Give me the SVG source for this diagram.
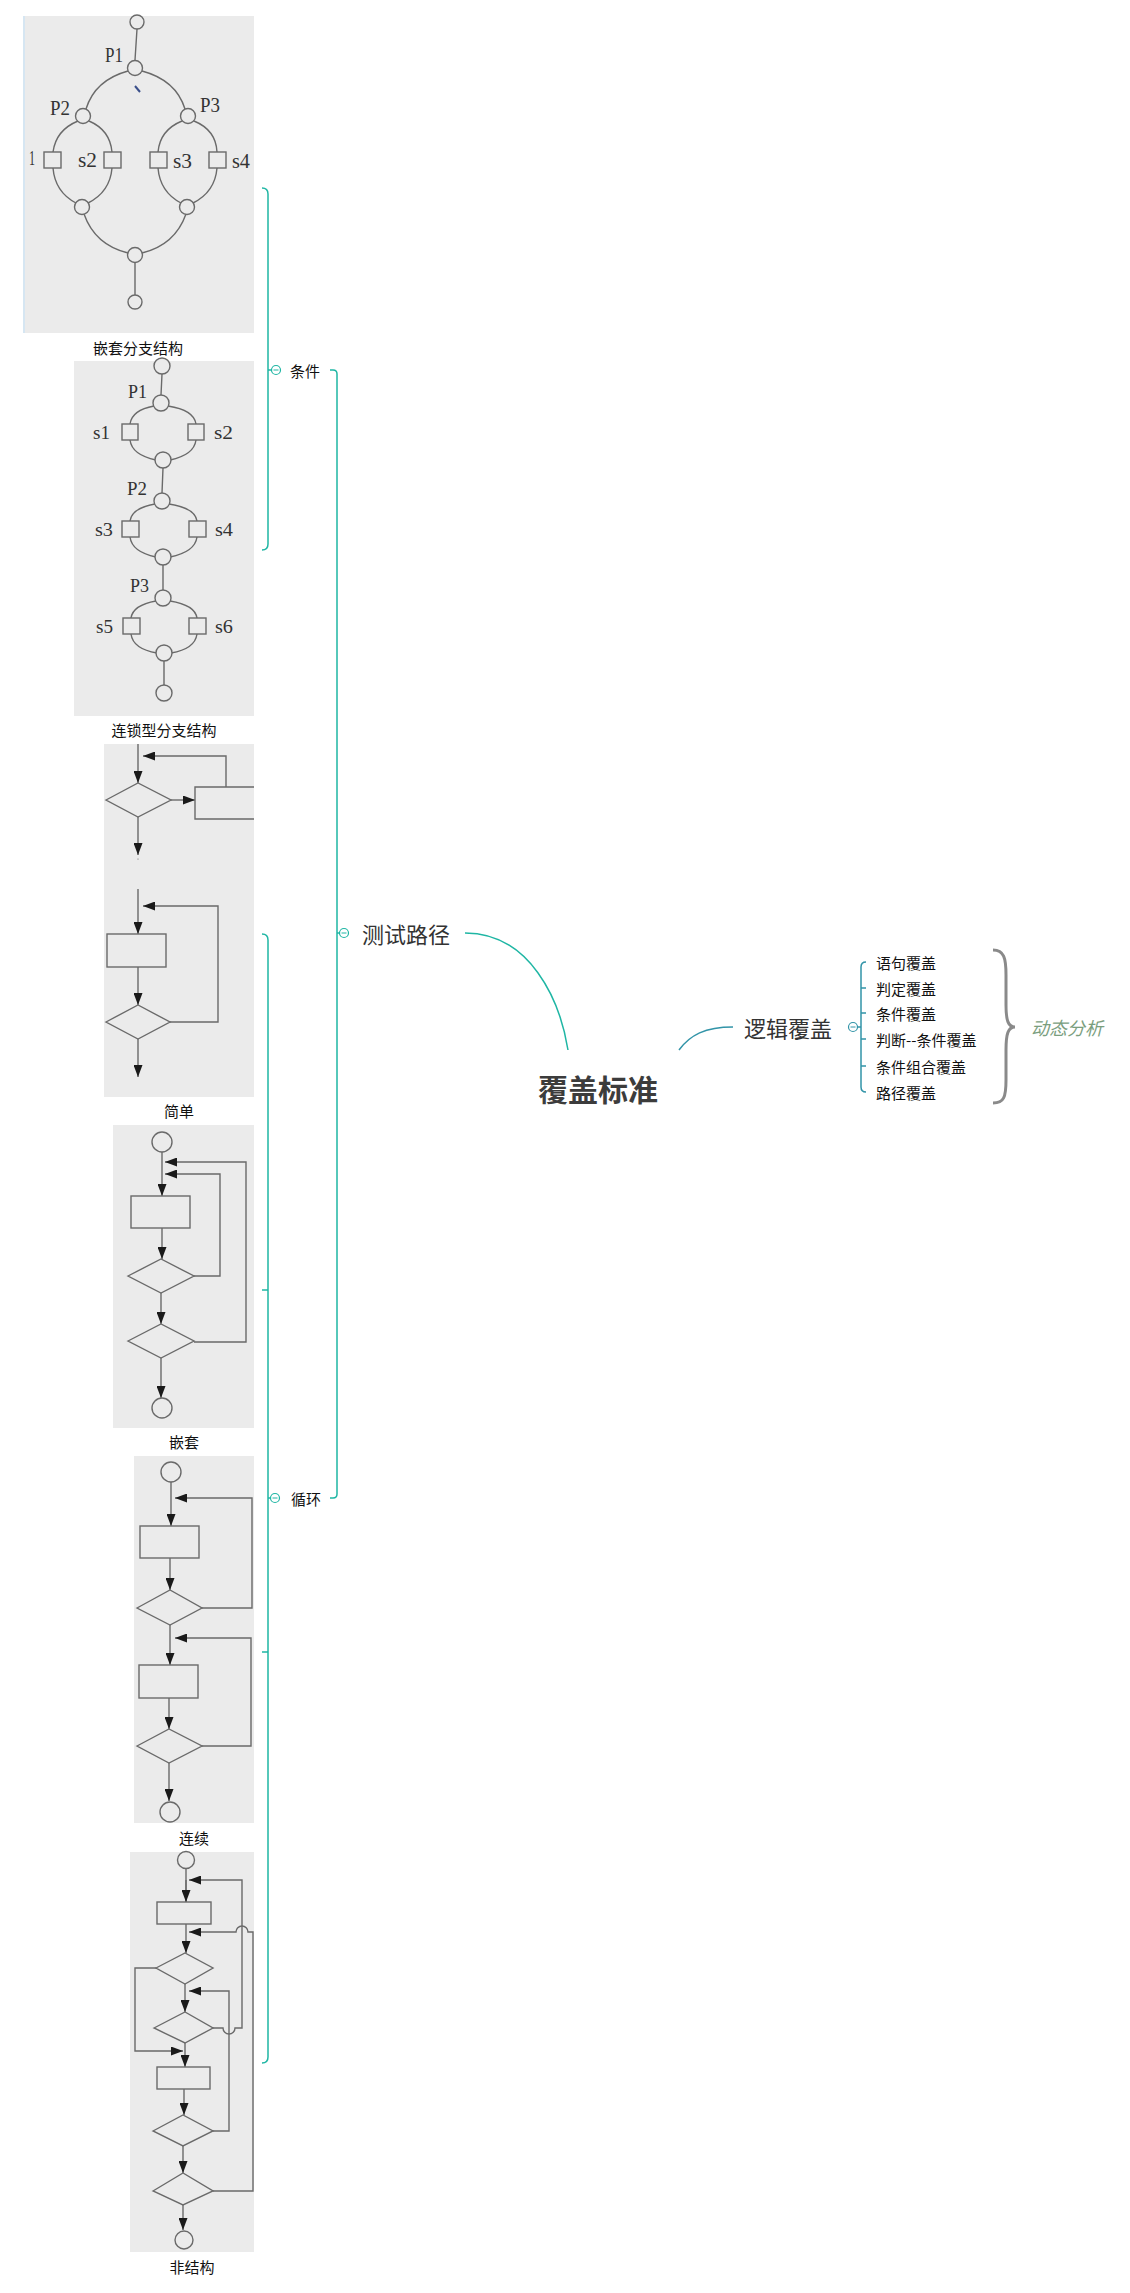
<svg xmlns="http://www.w3.org/2000/svg" width="1130" height="2293" viewBox="0 0 1130 2293">
<style>
.bg{fill:#ebebeb}
.g{fill:none;stroke:#6a6a6a;stroke-width:1.4}
.gn{fill:#ebebeb;stroke:#6a6a6a;stroke-width:1.4}
.a{fill:none;stroke:#6a6a6a;stroke-width:1.4;marker-end:url(#ar)}
.sf{font-family:"Liberation Serif",serif;font-size:20px;fill:#333}
.sf2{font-family:"Liberation Serif",serif;font-size:18px;fill:#333}
.cap{font-family:"Noto Sans CJK SC",sans-serif;font-size:15px;fill:#111;text-anchor:middle;dominant-baseline:central}
.leaf{font-family:"Noto Sans CJK SC",sans-serif;font-size:15px;fill:#111;dominant-baseline:central}
.t{fill:none;stroke:#1fb6a4;stroke-width:1.5}
.tb{fill:none;stroke:#3294a8;stroke-width:1.5}
.btn{fill:#fff;stroke:#1fb6a4;stroke-width:1.2}
.btnb{fill:#fff;stroke:#3294a8;stroke-width:1.2}
</style>
<defs>
<marker id="ar" markerUnits="userSpaceOnUse" markerWidth="12" markerHeight="9" refX="12" refY="4.5" orient="auto">
<path d="M0,0 L12,4.5 L0,9 z" fill="#1a1a1a"/>
</marker>
</defs>

<g id="connectors">
<path class="t" d="M262,188 Q268,188 268,194 L268,544 Q268,550 262,550"/>
<path class="t" d="M268,370 L272,370"/>
<path class="t" d="M330,370 L333,370 Q337,370 337,374 L337,1494 Q337,1498 333,1498 L330,1498"/>
<path class="t" d="M337,933 L340,933"/>
<path class="t" d="M262,934 Q268,934 268,940 L268,2057 Q268,2063 262,2063 M262,1290 L268,1290 M262,1652 L268,1652"/>
<path class="t" d="M268,1498 L271,1498"/>
<path class="t" d="M465,933 C530,933 560,1000 568,1050"/>
<path class="tb" d="M679,1050 C690,1035 705,1027 733,1027"/>
<path class="tb" d="M857,1027 L861,1027"/>
<path class="tb" d="M866,962 Q861,962 861,967 L861,1087 Q861,1092 866,1092 M861,988 L866,988 M861,1013 L866,1013 M861,1039 L866,1039 M861,1066 L866,1066"/>
</g>

<g id="img-nested-branch">
<rect class="bg" x="23" y="16" width="231" height="317"/>
<line x1="24" y1="16" x2="24" y2="333" stroke="#cfe5f5" stroke-width="1.5"/>
<path class="g" d="M137,29 L135,60 M135,263 L135,295"/>
<path class="g" d="M128,71 Q95,80 86,109 M142,71 Q176,80 185,109"/>
<path class="g" d="M78,121 Q56,130 53,152 M89,121 Q110,130 112,152 M182,121 Q160,130 158,152 M194,121 Q216,130 217,152"/>
<path class="g" d="M53,168 Q55,192 76,203 M112,168 Q110,192 88,203 M158,168 Q160,192 181,203 M217,168 Q215,192 193,203"/>
<path class="g" d="M84,214 Q95,245 128,253 M186,214 Q175,245 142,253"/>
<circle class="gn" cx="137" cy="22" r="7"/>
<circle class="gn" cx="135" cy="68" r="7.5"/>
<circle class="gn" cx="83" cy="116" r="7.5"/>
<circle class="gn" cx="188" cy="116" r="7.5"/>
<rect class="gn" x="44" y="152" width="17" height="16"/>
<rect class="gn" x="104" y="152" width="17" height="16"/>
<rect class="gn" x="150" y="152" width="17" height="16"/>
<rect class="gn" x="209" y="152" width="17" height="16"/>
<circle class="gn" cx="82" cy="207" r="7.5"/>
<circle class="gn" cx="187" cy="207" r="7.5"/>
<circle class="gn" cx="135" cy="255" r="7.5"/>
<circle class="gn" cx="135" cy="302" r="7"/>
<line x1="135" y1="86" x2="140" y2="92" stroke="#3a4f8a" stroke-width="2"/>
<text class="sf" x="105" y="62" textLength="18" lengthAdjust="spacingAndGlyphs">P1</text>
<text class="sf" x="50" y="115" textLength="20" lengthAdjust="spacingAndGlyphs">P2</text>
<text class="sf" x="200" y="112" textLength="20" lengthAdjust="spacingAndGlyphs">P3</text>
<text class="sf" x="29" y="165" textLength="6" lengthAdjust="spacingAndGlyphs">1</text>
<text class="sf" x="78" y="167" textLength="19" lengthAdjust="spacingAndGlyphs">s2</text>
<text class="sf" x="173" y="168" textLength="19" lengthAdjust="spacingAndGlyphs">s3</text>
<text class="sf" x="232" y="168" textLength="18" lengthAdjust="spacingAndGlyphs">s4</text>
<text class="cap" x="138" y="347">嵌套分支结构</text>
</g>

<g id="img-chain-branch">
<rect class="bg" x="74" y="361" width="180" height="355"/>
<path class="g" d="M162,374 L161,395 M163,468 L162,493 M163,565 L163,590 M164,661 L164,685"/>
<path class="g" d="M154,406 Q132,410 130,424 M168,406 Q194,410 196,424 M130,440 Q132,455 156,460 M196,440 Q194,455 170,460"/>
<path class="g" d="M155,504 Q132,508 130,521 M169,504 Q195,508 197,521 M130,537 Q132,552 156,557 M197,537 Q195,552 170,557"/>
<path class="g" d="M156,601 Q133,605 131,618 M170,601 Q195,605 197,618 M131,634 Q133,649 157,653 M197,634 Q195,649 171,653"/>
<circle class="gn" cx="162" cy="366" r="8"/>
<circle class="gn" cx="161" cy="403" r="8"/>
<rect class="gn" x="122" y="424" width="16" height="16"/>
<rect class="gn" x="188" y="424" width="16" height="16"/>
<circle class="gn" cx="163" cy="460" r="8"/>
<circle class="gn" cx="162" cy="501" r="8"/>
<rect class="gn" x="122" y="521" width="17" height="16"/>
<rect class="gn" x="189" y="521" width="17" height="16"/>
<circle class="gn" cx="163" cy="557" r="8"/>
<circle class="gn" cx="163" cy="598" r="8"/>
<rect class="gn" x="123" y="618" width="17" height="16"/>
<rect class="gn" x="189" y="618" width="17" height="16"/>
<circle class="gn" cx="164" cy="653" r="8"/>
<circle class="gn" cx="164" cy="693" r="8"/>
<text class="sf2" x="128" y="398" textLength="19" lengthAdjust="spacingAndGlyphs">P1</text>
<text class="sf2" x="93" y="439" textLength="17" lengthAdjust="spacingAndGlyphs">s1</text>
<text class="sf2" x="214" y="439" textLength="19" lengthAdjust="spacingAndGlyphs">s2</text>
<text class="sf2" x="127" y="495" textLength="20" lengthAdjust="spacingAndGlyphs">P2</text>
<text class="sf2" x="95" y="536" textLength="18" lengthAdjust="spacingAndGlyphs">s3</text>
<text class="sf2" x="215" y="536" textLength="18" lengthAdjust="spacingAndGlyphs">s4</text>
<text class="sf2" x="130" y="592" textLength="19" lengthAdjust="spacingAndGlyphs">P3</text>
<text class="sf2" x="96" y="633" textLength="17" lengthAdjust="spacingAndGlyphs">s5</text>
<text class="sf2" x="215" y="633" textLength="18" lengthAdjust="spacingAndGlyphs">s6</text>
<text class="cap" x="164" y="729">连锁型分支结构</text>
</g>

<g id="img-simple-loop">
<rect class="bg" x="104" y="744" width="150" height="353"/>
<path class="a" d="M138,744 L138,783"/>
<path class="a" d="M226,787 L226,756 L143,756"/>
<polygon class="gn" points="106,800 138,783 171,800 138,817"/>
<path class="a" d="M171,800 L195,800"/>
<path class="gn" d="M254,787 L195,787 L195,819 L254,819"/>
<path class="a" d="M138,817 L138,855"/>
<circle cx="138" cy="859" r="0.6" fill="#666"/>
<path class="a" d="M138,889 L138,934"/>
<path class="a" d="M170,1022 L218,1022 L218,906 L143,906"/>
<rect class="gn" x="107" y="934" width="59" height="33"/>
<path class="a" d="M138,967 L138,1005"/>
<polygon class="gn" points="106,1022 138,1005 170,1022 138,1039"/>
<path class="a" d="M138,1039 L138,1077"/>
<text class="cap" x="179" y="1110">简单</text>
</g>

<g id="img-nested-loop">
<rect class="bg" x="113" y="1125" width="141" height="303"/>
<circle class="gn" cx="162" cy="1142" r="10"/>
<path class="a" d="M162,1152 L162,1196"/>
<path class="a" d="M194,1342 L246,1342 L246,1162 L165,1162"/>
<path class="a" d="M194,1276 L220,1276 L220,1174 L165,1174"/>
<rect class="gn" x="131" y="1196" width="59" height="32"/>
<path class="a" d="M162,1228 L162,1259"/>
<polygon class="gn" points="128,1276 161,1259 194,1276 161,1293"/>
<path class="a" d="M161,1293 L161,1324"/>
<polygon class="gn" points="128,1341 161,1324 194,1341 161,1358"/>
<path class="a" d="M161,1358 L161,1398"/>
<circle class="gn" cx="162" cy="1408" r="10"/>
<text class="cap" x="184" y="1441">嵌套</text>
</g>

<g id="img-serial-loop">
<rect class="bg" x="134" y="1456" width="120" height="367"/>
<circle class="gn" cx="171" cy="1472" r="10"/>
<path class="a" d="M171,1482 L171,1526"/>
<path class="a" d="M202,1608 L252,1608 L252,1498 L175,1498"/>
<rect class="gn" x="140" y="1526" width="59" height="32"/>
<path class="a" d="M170,1558 L170,1590"/>
<polygon class="gn" points="137,1608 170,1590 202,1608 170,1625"/>
<path class="a" d="M170,1625 L170,1665"/>
<path class="a" d="M202,1746 L251,1746 L251,1638 L175,1638"/>
<rect class="gn" x="139" y="1665" width="59" height="33"/>
<path class="a" d="M169,1698 L169,1729"/>
<polygon class="gn" points="137,1746 169,1729 202,1746 169,1763"/>
<path class="a" d="M169,1763 L169,1801"/>
<circle class="gn" cx="170" cy="1812" r="10"/>
<text class="cap" x="194" y="1837">连续</text>
</g>

<g id="img-unstructured-loop">
<rect class="bg" x="130" y="1852" width="124" height="400"/>
<circle class="gn" cx="186" cy="1860" r="8.5"/>
<path class="g" d="M186,1868 L186,1902"/>
<path class="a" d="M186,1880 L186,1902"/>
<path class="a" d="M213,2028 L223,2028 A6,6 0 0 0 235,2028 L242,2028 L242,1880 L189,1880"/>
<path class="a" d="M213,2191 L253,2191 L253,1932 L248,1932 A6,6 0 0 0 236,1932 L189,1932"/>
<path class="a" d="M213,2131 L229,2131 L229,1991 L189,1991"/>
<path class="a" d="M156,1968 L135,1968 L135,2051 L183,2051"/>
<rect class="gn" x="157" y="1902" width="54" height="22"/>
<path class="a" d="M186,1924 L186,1953"/>
<polygon class="gn" points="156,1968 185,1953 213,1968 185,1984"/>
<path class="a" d="M185,1984 L185,2012"/>
<polygon class="gn" points="154,2028 185,2012 213,2028 185,2043"/>
<path class="a" d="M185,2043 L185,2067"/>
<rect class="gn" x="157" y="2067" width="53" height="22"/>
<path class="a" d="M184,2089 L184,2115"/>
<polygon class="gn" points="153,2131 183,2115 213,2131 183,2146"/>
<path class="a" d="M183,2146 L183,2173"/>
<polygon class="gn" points="153,2191 183,2173 213,2191 183,2205"/>
<path class="a" d="M183,2205 L183,2230"/>
<circle class="gn" cx="184" cy="2240" r="9"/>
<text class="cap" x="192" y="2266">非结构</text>
</g>

<g id="node-tiaojian">
<circle class="btn" cx="276" cy="370" r="4.5"/>
<line x1="273.5" y1="370" x2="278.5" y2="370" stroke="#1fb6a4" stroke-width="1"/>
<text class="leaf" x="290" y="370">条件</text>
</g>
<g id="node-xunhuan">
<circle class="btn" cx="275" cy="1498" r="4.5"/>
<line x1="272.5" y1="1498" x2="277.5" y2="1498" stroke="#1fb6a4" stroke-width="1"/>
<text class="leaf" x="291" y="1498">循环</text>
</g>
<g id="node-ceshilujing">
<circle class="btn" cx="344" cy="933" r="4.5"/>
<line x1="341.5" y1="933" x2="346.5" y2="933" stroke="#1fb6a4" stroke-width="1"/>
<text x="362" y="933" font-family="Noto Sans CJK SC, sans-serif" font-size="22" fill="#333" dominant-baseline="central">测试路径</text>
</g>
<g id="node-root">
<text x="598" y="1088" font-family="Noto Sans CJK SC, sans-serif" font-size="30" font-weight="bold" fill="#3c3c3c" text-anchor="middle" dominant-baseline="central">覆盖标准</text>
</g>
<g id="node-luoji">
<text x="744" y="1027" font-family="Noto Sans CJK SC, sans-serif" font-size="22" fill="#333" dominant-baseline="central">逻辑覆盖</text>
<circle class="btnb" cx="853" cy="1027" r="4.5"/>
<line x1="850.5" y1="1027" x2="855.5" y2="1027" stroke="#3294a8" stroke-width="1"/>
</g>
<g id="leaves">
<text class="leaf" x="876" y="962">语句覆盖</text>
<text class="leaf" x="876" y="988">判定覆盖</text>
<text class="leaf" x="876" y="1013">条件覆盖</text>
<text class="leaf" x="876" y="1039">判断--条件覆盖</text>
<text class="leaf" x="876" y="1066">条件组合覆盖</text>
<text class="leaf" x="876" y="1092">路径覆盖</text>
</g>
<g id="summary">
<path d="M993,950 C1004,950 1006,958 1006,975 L1006,1005 C1006,1020 1008,1027 1015,1027 C1008,1027 1006,1034 1006,1050 L1006,1080 C1006,1097 1004,1103 993,1103" fill="none" stroke="#8a8a8a" stroke-width="3"/>
<text x="1031" y="1027" font-family="Noto Sans CJK SC, sans-serif" font-size="18" font-style="italic" fill="#7a9e7e" dominant-baseline="central">动态分析</text>
</g>
</svg>
